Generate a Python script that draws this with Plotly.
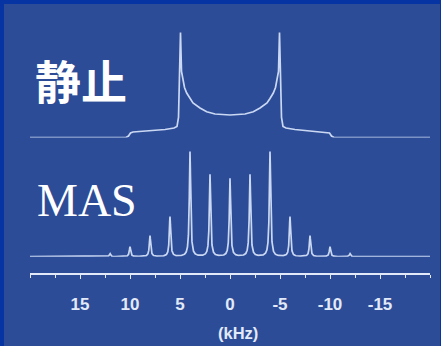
import numpy as np
import plotly.graph_objects as go

# ---- data -------------------------------------------------------------
# static powder pattern: (frequency in kHz, intensity in a.u.)
static_khz = [20.0, 10.4, 10.15, 9.95, 9.7, 8.0, 6.5, 5.6, 5.3, 5.15, 5.05, 4.95,
              4.85, 4.7, 4.55, 4.33, 4.0, 3.7, 3.0, 2.33, 1.5, 0.0,
              -1.5, -2.33, -3.0, -3.7, -4.0, -4.33, -4.55, -4.7, -4.85,
              -4.95, -5.05, -5.15, -5.3, -5.6, -6.5, -8.0, -9.7, -9.95, -10.15, -10.4, -20.0]
static_int = [0.0, 0.0, 1.5, 4.5, 5.5, 6.5, 8.0, 9.5, 11.0, 20.0, 60.0, 105.0,
              66.0, 58.0, 50.0, 44.5, 39.0, 34.5, 29.5, 25.8, 23.5, 22.5,
              23.5, 25.8, 29.5, 34.5, 39.0, 44.5, 50.0, 58.0, 66.0,
              105.0, 60.0, 20.0, 11.0, 9.5, 8.0, 6.5, 5.5, 4.5, 1.5, 0.0, 0.0]

# MAS spinning sidebands: position (kHz) and peak height (a.u.)
sideband_khz = [12, 10, 8, 6, 4, 2, 0, -2, -4, -6, -8, -10, -12]
sideband_int = [3, 10, 21, 40, 105, 82, 78, 82, 105, 40, 21, 10, 3]
sideband_hwhm = 0.08  # kHz

tick_vals = [15, 10, 5, 0, -5, -10, -15]
tick_text = ["15", "10", "5", "0", "-5", "-10", "-15"]

# ---- MAS lineshape: sum of Lorentzian lines ----------------------------
freq = np.linspace(20, -20, 8001)
mas = np.zeros_like(freq)
for f0, h in zip(sideband_khz, sideband_int):
    mas += h / (1.0 + ((freq - f0) / sideband_hwhm) ** 2)

panel = "#2c4c97"
edge = "#0634a2"
line_col = "#cad8f3"
axis_col = "#e2e9f8"

fig = go.Figure()
fig.add_trace(go.Scatter(x=freq, y=mas, mode="lines", xaxis="x", yaxis="y",
                         line=dict(color=line_col, width=1.7), hoverinfo="skip"))
fig.add_trace(go.Scatter(x=static_khz, y=static_int, mode="lines", xaxis="x", yaxis="y2",
                         line=dict(color=line_col, width=1.7), hoverinfo="skip"))

W, H = 441, 346
ml, mr, mt, mb = 30, 11, 20, 72
pw, ph = W - ml - mr, H - mt - mb


def px(x):
    return (x - ml) / pw


def py(y):
    return (H - mb - y) / ph


fig.update_layout(
    width=W, height=H,
    margin=dict(l=ml, r=mr, t=mt, b=mb, pad=0),
    paper_bgcolor=panel, plot_bgcolor=panel,
    showlegend=False,
    xaxis=dict(range=[20, -20], showgrid=False, zeroline=False,
               anchor="free", position=0,
               showline=True, linecolor=axis_col, linewidth=2,
               ticks="outside", ticklen=4, tickwidth=1.2, tickcolor=axis_col,
               minor=dict(dtick=2.5, tick0=0, ticks="outside", ticklen=3,
                          tickwidth=1, tickcolor=axis_col),
               tickvals=tick_vals, ticktext=tick_text,
               ticklabelstandoff=11,
               tickfont=dict(family="Liberation Sans", size=17, color=axis_col,
                             weight="bold")),
    yaxis=dict(domain=[py(256.7), py(142)], range=[0, 256.7 - 142],
               visible=False, fixedrange=True),
    yaxis2=dict(domain=[py(137.5), 1.0], range=[0, 137.5 - mt],
                visible=False, fixedrange=True),
    shapes=[
        dict(type="rect", xref="paper", yref="paper", x0=px(-20), x1=px(4),
             y0=py(400), y1=py(-20), fillcolor=edge, line_width=0, layer="below"),
        dict(type="rect", xref="paper", yref="paper", x0=px(-20), x1=px(460),
             y0=py(4), y1=py(-20), fillcolor=edge, line_width=0, layer="below"),
        dict(type="rect", xref="paper", yref="paper", x0=px(440), x1=px(460),
             y0=py(400), y1=py(-20), fillcolor=edge, line_width=0, layer="below"),
    ],
    annotations=[
        dict(text="静止", x=px(81), y=py(79), xref="paper", yref="paper",
             showarrow=False, xanchor="center", yanchor="middle",
             font=dict(family="Noto Sans CJK JP", size=46, color="white",
                       weight="bold")),
        dict(text="MAS", x=px(86.5), y=py(200), xref="paper", yref="paper",
             showarrow=False, xanchor="center", yanchor="middle",
             font=dict(family="Liberation Serif", size=46, color="white")),
        dict(text="(kHz)", x=px(238), y=py(333), xref="paper", yref="paper",
             showarrow=False, xanchor="center", yanchor="middle",
             font=dict(family="Liberation Sans", size=16.5, color=axis_col,
                       weight="bold")),
    ],
)

fig.write_html("out.html")
